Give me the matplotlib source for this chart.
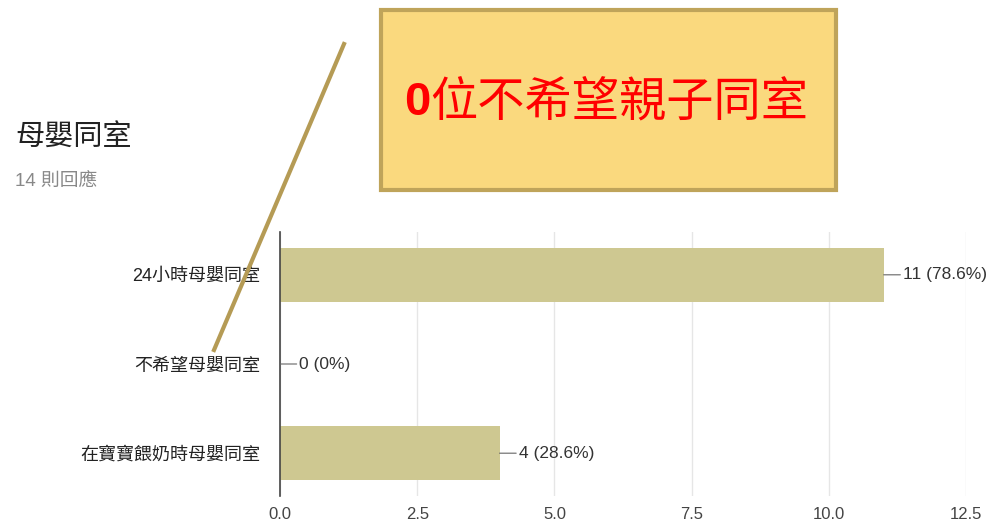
import matplotlib
matplotlib.use("Agg")
import matplotlib.pyplot as plt
from matplotlib.patches import FancyBboxPatch
from matplotlib.lines import Line2D

plt.rcParams['font.family'] = ['Liberation Sans', 'Noto Sans CJK TC', 'DejaVu Sans']

categories = ["24小時母嬰同室", "不希望母嬰同室", "在寶寶餵奶時母嬰同室"]
counts = [11, 0, 4]
labels = ["11 (78.6%)", "0 (0%)", "4 (28.6%)"]
xticks = [0.0, 2.5, 5.0, 7.5, 10.0, 12.5]
title = "母嬰同室"
subtitle = "14 則回應"
callout = "位不希望親子同室"

W, H = 988, 522
fig = plt.figure(figsize=(W / 100, H / 100), dpi=100)
ax = fig.add_axes([280 / W, 1 - 496 / H, (966 - 280) / W, (496 - 232) / H])

ax.barh(range(len(categories)), counts, height=0.61, color="#CEC891", zorder=2)
ax.set_xlim(0, 12.5)
ax.set_ylim(2.48, -0.48)
ax.set_xticks(xticks)
ax.set_xticklabels([f"{t:.1f}" for t in xticks], fontsize=12, color="#444444")
ax.set_yticks(range(len(categories)))
ax.set_yticklabels(categories, fontsize=13, color="#222222")
ax.tick_params(length=0)
ax.tick_params(axis="x", pad=8)
ax.tick_params(axis="y", pad=14)
ax.grid(axis="x", color="#e6e6e6", lw=1, zorder=0)
for s in ["top", "right", "bottom"]:
    ax.spines[s].set_visible(False)
ax.spines["left"].set_color("#444444")
ax.spines["left"].set_linewidth(1.2)

for i, (c, lab) in enumerate(zip(counts, labels)):
    ax.annotate(lab, xy=(c, i), xytext=(14, 0), textcoords="offset points",
                va="center", ha="left", fontsize=12.5, color="#333333",
                arrowprops=dict(arrowstyle="-", color="#666666", lw=0.8,
                                shrinkA=0, shrinkB=0))

fig.text(15 / W, 1 - 138 / H, title, fontsize=21, color="#222222", va="center", ha="left")
fig.text(15 / W, 1 - 181 / H, subtitle, fontsize=13.5, color="#888888", va="center", ha="left")

# callout box and connector
fig.add_artist(Line2D([344 / W, 214 / W], [1 - 44 / H, 1 - 350 / H],
                      color="#B59B55", lw=3, transform=fig.transFigure))
box = FancyBboxPatch((381 / W, 1 - 190 / H), (836 - 381) / W, (190 - 10) / H,
                     boxstyle="square,pad=0", transform=fig.transFigure,
                     facecolor="#FAD97E", edgecolor="#BFA45A", lw=3)
fig.add_artist(box)
fig.text(430 / W, 1 - 103 / H, "0", fontsize=34, fontweight="bold",
         color="#FF0000", va="center", ha="right")
fig.text(430 / W, 1 - 103 / H, callout, fontsize=34, color="#FF0000",
         va="center", ha="left")

fig.savefig("out.png", dpi=100)
